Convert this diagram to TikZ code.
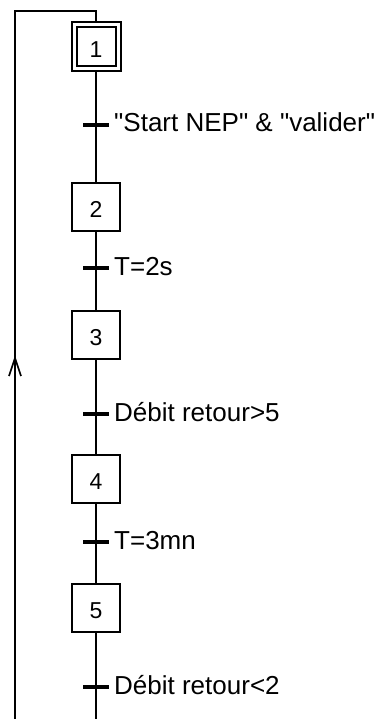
\documentclass[tikz,border=0pt]{standalone}
\usepackage{fontspec}
\setmainfont[Ligatures=TeXOff]{Liberation Sans}
\usetikzlibrary{decorations.markings}
\newcommand{\dq}{\symbol{34}}
\begin{document}
\begin{tikzpicture}[x=1pt,y=-1pt,
  stepbox/.style={draw=black, line width=2pt, minimum size=48pt, inner sep=0pt,
    font=\fontsize{23}{27}\selectfont, text height=21pt, text depth=0pt},
  innerbox/.style={draw=black, line width=2pt, minimum size=39pt, inner sep=0pt},
  tickbar/.style={fill=black, draw=none, minimum width=26pt, minimum height=3.5pt, inner sep=0pt},
  cond/.style={anchor=base west, inner sep=0pt, font=\fontsize{26}{31}\selectfont},
  link/.style={draw=black, line width=2pt},
  backarrow/.style={decoration={markings, mark=at position 361pt with {
      \draw[line width=1.6pt] (-18pt,6pt) -- (0pt,0pt) -- (-18pt,-6pt);}},
    postaction={decorate}}
]
\useasboundingbox (0,0) rectangle (382,719);

% steps
\node[stepbox, minimum size=49pt] (s1) at (96,47) {};
\node[innerbox] (s1i) at (96,47) {};
\node[font=\fontsize{23}{27}\selectfont, text height=21pt, text depth=0pt, inner sep=0pt] (n1) at (96,47) {1};
\node[stepbox] (s2) at (96,207) {2};
\node[stepbox] (s3) at (96,335) {3};
\node[stepbox] (s4) at (96,479) {4};
\node[stepbox] (s5) at (96,607.5) {5};

% transitions
\node[tickbar] (t1) at (96,125) {};
\node[tickbar] (t2) at (96,268) {};
\node[tickbar] (t3) at (96,414) {};
\node[tickbar] (t4) at (96,542) {};
\node[tickbar] (t5) at (96,687) {};

\node[cond] (c1) at (114,132) {\dq Start NEP\dq{} \& \dq valider\dq};
\node[cond] (c2) at (114,275) {T=2s};
\node[cond] (c3) at (114,421) {Débit retour>5};
\node[cond] (c4) at (114,549) {T=3mn};
\node[cond] (c5) at (114,694) {Débit retour<2};

% coordinates
\coordinate (bot) at (96,719);
\coordinate (lb) at (15,719);
\coordinate (lt) at (15,11);
\coordinate (rt) at (96,11);

% links
\draw[link] (s1) -- (t1) -- (s2) -- (t2) -- (s3) -- (t3) -- (s4) -- (t4) -- (s5) -- (t5) -- (bot);
\draw[link, backarrow] (lb) -- (lt) -- (rt) -- (s1.north);
\end{tikzpicture}
\end{document}
